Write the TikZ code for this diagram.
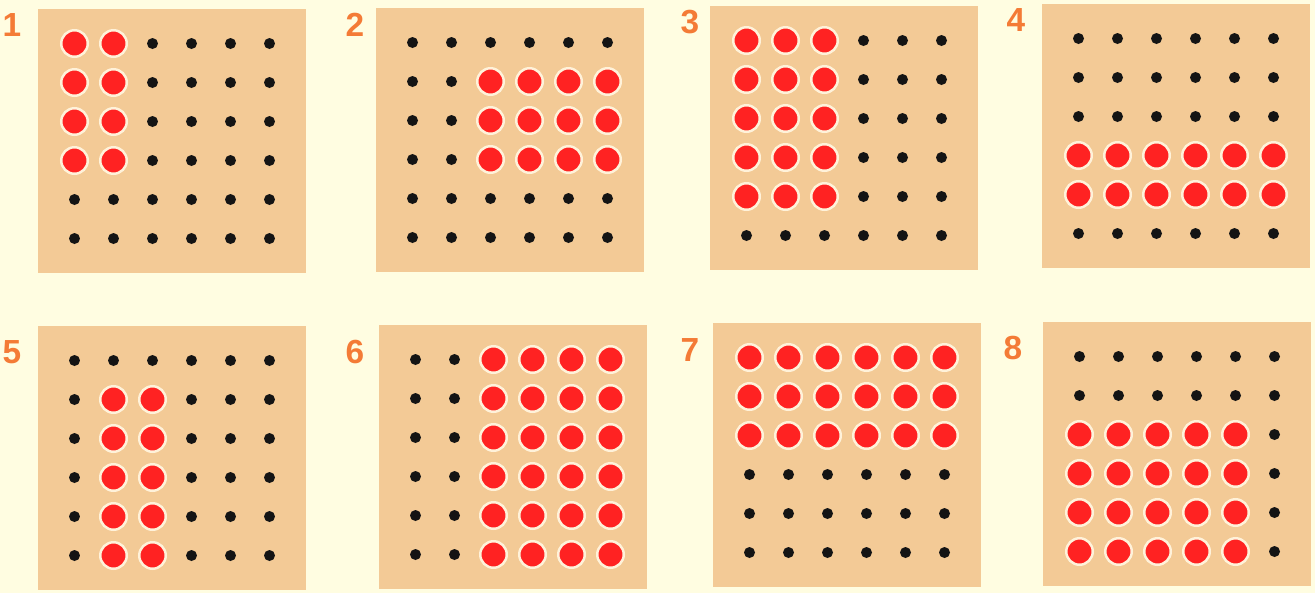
\documentclass[tikz,border=0pt]{standalone}
\usepackage{fontspec}
\setmainfont{Liberation Sans}
\definecolor{cPaper}{HTML}{FFFDE1}
\definecolor{cBoard}{HTML}{F3CA96}
\definecolor{cBead} {HTML}{FF2222}
\definecolor{cRing} {HTML}{FFF2DA}
\definecolor{cPeg}  {HTML}{141414}
\definecolor{cNum}  {HTML}{F47B36}

\begin{document}
\begin{tikzpicture}[x=0.02cm, y=-0.02cm,
      board/.style = {fill=cBoard, minimum width=5.36cm, minimum height=5.3cm, inner sep=0pt},
      peg/.style   = {circle, fill=cPeg, minimum size=0.22cm, inner sep=0pt},
      bead/.style  = {circle, fill=cBead, draw=cRing, line width=0.05cm, minimum size=0.53cm, inner sep=0pt},
      num/.style   = {text=cNum, font=\fontsize{19}{19}\selectfont\bfseries} ]
    \fill[cPaper] (0,0) rectangle (1315,593);
    \useasboundingbox (0,0) rectangle (1315,593);

    % panel / centre / label / red rows / red columns
    \foreach \k/\cx/\cy/\lx/\ly/\ra/\rb/\ca/\cb in {
        1/172/141/12/25/1/4/1/2,    2/510/140/355/25/2/4/3/6,
        3/844/138/690/22/1/5/1/3,   4/1176/136/1016/20/4/5/1/6,
        5/172/458/12/352/2/6/2/3,   6/513/457/355/352/1/6/3/6,
        7/847/455/690/350/1/3/1/6,  8/1177/454/1013/348/3/6/1/5} {
      \node[board] (b\k) at (\cx,\cy) {};
      \node[num]   (n\k) at (\lx,\ly) {\k};
      \foreach \r in {1,...,6}
        \foreach \c in {1,...,6} {
          \pgfmathtruncatemacro\isred{(\r>=\ra)&&(\r<=\rb)&&(\c>=\ca)&&(\c<=\cb)}
          \ifnum\isred=1
            \node[bead] (d\k-\r-\c) at ({\cx+39*(\c-3.5)},{\cy+39*(\r-3.5)}) {};
          \else
            \node[peg]  (d\k-\r-\c) at ({\cx+39*(\c-3.5)},{\cy+39*(\r-3.5)}) {};
          \fi
        }
    }
  \end{tikzpicture}
\end{document}
